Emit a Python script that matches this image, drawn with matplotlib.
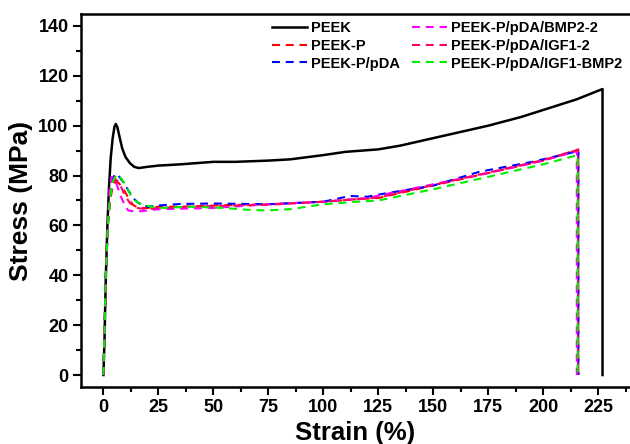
import matplotlib
matplotlib.use("Agg")
import matplotlib.pyplot as plt
from matplotlib.ticker import MultipleLocator

plt.rcParams['font.family'] = ['Liberation Sans', 'DejaVu Sans']
plt.rcParams['font.weight'] = 'bold'

# stress-strain curves (strain %, stress MPa)
peek_x = [0, 0.5, 1.1, 1.8, 2.5, 3.3, 4.2, 5.0, 5.6, 6.3, 7.2, 8.5, 10, 12, 14, 16, 20, 25, 35,
          50, 60, 75, 85, 100, 110, 125, 135, 150, 165, 175, 190, 200, 215, 227, 227]
peek_y = [0, 15, 40, 60, 75, 87, 95, 99.5, 100.7, 99.5, 96, 91, 87.5, 85, 83.5, 83, 83.5, 84, 84.5,
          85.5, 85.5, 86, 86.5, 88.2, 89.5, 90.5, 92, 95, 98, 100, 103.5, 106.3, 110.5, 114.7, 0]

peekp_x = [0, 1.1, 2.0, 3.0, 4.2, 5.5, 7.0, 9.8, 12, 13.5, 16, 20, 25, 35, 50, 75, 100, 115, 125,
           150, 175, 200, 216, 216]
peekp_y = [0, 40, 60, 70, 75.5, 77.5, 77, 73.5, 70, 68.2, 67, 67, 67.5, 67.5, 68, 68.5, 69.5, 70.5, 71,
           76, 81, 86, 90.5, 0]

pda_x = [0, 1.1, 2.0, 3.0, 4.2, 5.2, 6.5, 8.5, 11, 13.5, 15.8, 20, 25, 35, 50, 75, 100, 112, 120,
         126, 150, 171, 195, 216, 216]
pda_y = [0, 40, 60, 72, 78.5, 80.6, 80.3, 78, 74.5, 71, 69, 67.5, 68, 68.6, 68.8, 68.5, 69.5, 71.8, 71.5,
         72.5, 76, 81.5, 85.5, 89.8, 0]

bmp_x = [0, 1.1, 2.0, 2.8, 3.7, 4.6, 6.0, 8.0, 10, 11.3, 15, 20, 25, 50, 75, 100, 120, 150, 175,
         200, 215.3, 215.3]
bmp_y = [0, 40, 62, 74, 79.5, 79, 76.5, 71.5, 67.5, 66, 65.5, 66, 66.5, 67, 68.5, 69.5, 71, 76.5, 81,
         86, 89.8, 0]

igf_x = [0, 1.1, 2.0, 3.0, 4.2, 5.4, 7.0, 9.5, 12, 15, 20, 25, 50, 75, 100, 115, 125, 150, 175,
         200, 215.8, 215.8]
igf_y = [0, 40, 60, 71, 76.5, 78.5, 77.5, 72.5, 69, 67, 66.5, 67, 67.8, 68.3, 69.5, 70.5, 71.2, 76.2, 81.2,
         86.2, 90.3, 0]

both_x = [0, 1.1, 2.0, 3.0, 4.2, 6.0, 7.5, 9.5, 11, 12.8, 15, 18, 25, 40, 55, 65, 74, 85, 100,
          115, 125, 150, 175, 200, 215.7, 215.7]
both_y = [0, 40, 60, 71, 77.5, 80.5, 79.5, 77, 74.5, 71.5, 69.5, 68.2, 67, 67.5, 67, 66.3, 66, 66.5, 68.5,
          69.5, 70, 74.5, 79.5, 84.5, 88.2, 0]

labels = ['PEEK', 'PEEK-P', 'PEEK-P/pDA', 'PEEK-P/pDA/BMP2-2', 'PEEK-P/pDA/IGF1-2',
          'PEEK-P/pDA/IGF1-BMP2']
colors = ['black', '#FF0000', '#0000FF', '#FF00FF', '#FF0066', '#00EE00']

fig = plt.figure(figsize=(6.3, 4.44), dpi=100)
ax = fig.add_axes([0.1286, 0.1284, 0.8714, 0.8401])

dash = (0, (3.8, 2.8))
ax.plot(peek_x, peek_y, color=colors[0], lw=1.8, label=labels[0])
ax.plot(peekp_x, peekp_y, color=colors[1], lw=1.5, ls=dash, label=labels[1])
ax.plot(pda_x, pda_y, color=colors[2], lw=1.5, ls=dash, label=labels[2])
ax.plot(bmp_x, bmp_y, color=colors[3], lw=1.5, ls=dash, label=labels[3])
ax.plot(igf_x, igf_y, color=colors[4], lw=1.5, ls=dash, label=labels[4])
ax.plot(both_x, both_y, color=colors[5], lw=1.5, ls=dash, label=labels[5])

ax.set_xlim(-10.2, 239.5)
ax.set_ylim(-4.8, 144.8)
ax.xaxis.set_major_locator(MultipleLocator(25))
ax.xaxis.set_minor_locator(MultipleLocator(12.5))
ax.yaxis.set_major_locator(MultipleLocator(20))
ax.yaxis.set_minor_locator(MultipleLocator(10))
ax.tick_params(which='major', direction='out', length=6, width=1.5, labelsize=13, pad=3)
ax.tick_params(which='minor', direction='out', length=3.5, width=1.5)
for s in ax.spines.values():
    s.set_linewidth(1.8)
ax.spines['right'].set_visible(False)

ax.set_xlabel('Strain (%)', fontsize=18.5, fontweight='bold', labelpad=3)
ax.set_ylabel('Stress (MPa)', fontsize=19, fontweight='bold', labelpad=4)

ax.legend(ncol=2, loc='upper right', frameon=False, fontsize=10.5, handlelength=2.4,
          handletextpad=0.3, columnspacing=0.8, labelspacing=0.25,
          borderaxespad=0.1, bbox_to_anchor=(1.0, 1.0))

fig.savefig('out.png', dpi=100)
